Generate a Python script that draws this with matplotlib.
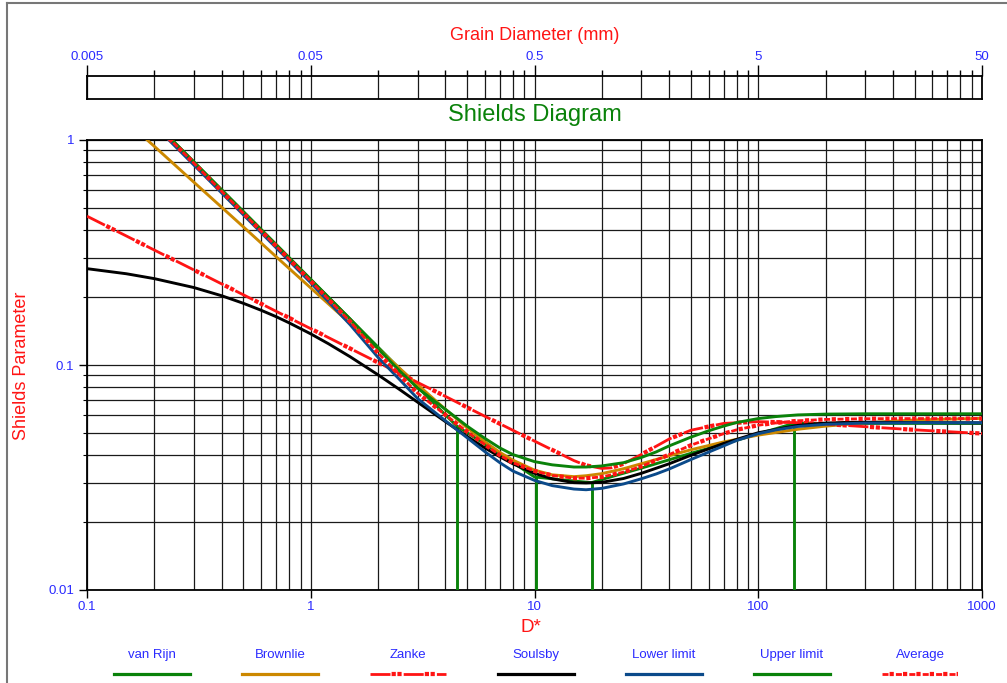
import matplotlib
matplotlib.use('Agg')
import matplotlib.pyplot as plt
from matplotlib.lines import Line2D
from matplotlib.ticker import FixedLocator, NullFormatter

plt.rcParams['font.family'] = ['Liberation Sans', 'DejaVu Sans']
plt.rcParams['lines.scale_dashes'] = False

GREEN = '#0a820a'
ORANGE = '#cc8800'
RED = '#ff1414'
NAVY = '#0b4a8a'
BLUE = '#2a2aff'

# values (D* -> Shields parameter)
d_vr = [0.2, 0.3, 0.5, 0.7, 1, 1.5, 2, 3, 4, 4.5, 5, 7, 10, 15, 18, 20, 30, 50, 70, 100, 145, 150, 300, 1000]
t_vr = [1.2, 0.8, 0.48, 0.343, 0.24, 0.16, 0.12, 0.08, 0.06, 0.0535, 0.050, 0.0403, 0.0318, 0.0305, 0.0300,
        0.0310, 0.0348, 0.0405, 0.0445, 0.0494, 0.0551, 0.055, 0.055, 0.055]
vr_drop_d = [4.5, 10.2, 18, 145]
vr_drop_t = [0.0535, 0.0318, 0.0300, 0.0551]

d_br = [0.15, 0.2, 0.3, 0.5, 0.7, 1, 1.5, 2, 3, 4, 5, 6, 7, 8, 10, 12, 15, 17, 20, 25, 30, 40, 50, 70, 100, 150,
        200, 300, 500, 1000]
t_br = [1.21, 0.937, 0.650, 0.411, 0.303, 0.220, 0.153, 0.118, 0.0819, 0.0635, 0.0526, 0.0456, 0.0409, 0.0378,
        0.0341, 0.0325, 0.0319, 0.0322, 0.0329, 0.0346, 0.0364, 0.0395, 0.0420, 0.0455, 0.0488, 0.0518, 0.0535,
        0.0553, 0.0570, 0.0579]

d_za = [0.1, 0.2, 0.3, 0.5, 0.7, 1, 1.5, 2, 3, 4, 5, 7, 10, 15, 17, 20, 22, 25, 30, 40, 50, 70, 100, 150, 200, 300,
        500, 1000]
t_za = [0.4585, 0.3242, 0.2647, 0.2051, 0.1733, 0.145, 0.1184, 0.1025, 0.0837, 0.0725, 0.0648, 0.0548, 0.0459,
        0.0376, 0.0358, 0.0347, 0.0349, 0.0364, 0.0400, 0.0469, 0.0513, 0.0550, 0.0560, 0.0554, 0.0546, 0.0532,
        0.0515, 0.0496]

d_so = [0.1, 0.15, 0.2, 0.3, 0.4, 0.5, 0.6, 0.7, 0.8, 1, 1.2, 1.5, 2, 2.5, 3, 4, 5, 6, 7, 8, 10, 12, 15, 17, 20, 25,
        30, 40, 50, 70, 100, 150, 200, 250, 300, 500, 1000]
t_so = [0.268, 0.2544, 0.242, 0.221, 0.2031, 0.188, 0.1751, 0.164, 0.1540, 0.1375, 0.1243, 0.1088, 0.0904, 0.0777,
        0.0684, 0.0560, 0.0481, 0.0428, 0.0391, 0.0364, 0.0330, 0.0312, 0.0300, 0.0299, 0.0301, 0.0313, 0.0330,
        0.0364, 0.0397, 0.0448, 0.0500, 0.0539, 0.0552, 0.0556, 0.0557, 0.0555, 0.0553]

d_lim = [0.2, 0.3, 0.5, 0.7, 1, 1.5, 2, 2.5, 3, 4, 5, 6, 7, 8, 10, 12, 15, 17, 20, 25, 30, 35, 40, 50, 60, 70, 80,
         100, 120, 150, 200, 300, 500, 1000]
t_lo = [1.16, 0.775, 0.465, 0.332, 0.232, 0.151, 0.108, 0.086, 0.071, 0.0565, 0.0475, 0.0412, 0.0368, 0.0338,
        0.0307, 0.0291, 0.0281, 0.0279, 0.0283, 0.0296, 0.0312, 0.0328, 0.0345, 0.0380, 0.0410, 0.0437, 0.0462,
        0.0495, 0.0515, 0.0533, 0.0545, 0.0552, 0.0554, 0.0554]
t_up = [1.20, 0.80, 0.48, 0.343, 0.240, 0.160, 0.118, 0.094, 0.079, 0.0635, 0.0535, 0.0472, 0.0428, 0.0400,
        0.0372, 0.0360, 0.0352, 0.0352, 0.0356, 0.0368, 0.0388, 0.0411, 0.0437, 0.0478, 0.0510, 0.0535, 0.0555,
        0.0578, 0.0590, 0.0600, 0.0605, 0.0607, 0.0607, 0.0607]
t_av = [1.18, 0.79, 0.472, 0.338, 0.236, 0.156, 0.113, 0.090, 0.075, 0.060, 0.0505, 0.0443, 0.0397, 0.0368,
        0.0338, 0.0323, 0.0314, 0.0314, 0.0318, 0.0334, 0.0354, 0.0378, 0.0400, 0.0440, 0.0470, 0.0495, 0.0515,
        0.0540, 0.0553, 0.0565, 0.0573, 0.0577, 0.0578, 0.0578]

names = ['van Rijn', 'Brownlie', 'Zanke', 'Soulsby', 'Lower limit', 'Upper limit', 'Average']

x_ticks = [0.1, 1, 10, 100, 1000]
x_labels = ['0.1', '1', '10', '100', '1000']
y_ticks = [0.01, 0.1, 1]
y_labels = ['0.01', '0.1', '1']
top_ticks = [0.005, 0.05, 0.5, 5, 50]
top_labels = ['0.005', '0.05', '0.5', '5', '50']

W, H = 1007, 683
fig = plt.figure(figsize=(W / 100, H / 100), dpi=100)
P = 0.72  # px -> pt


def red_line(target, x, y, dash, dots, transform=None, z=3):
    # long dash + square dots pattern, squares drawn as a thicker dashed line
    sq, gap = 4.2, 1.6
    period = dash + gap + dots * (sq + gap)
    kw = dict(color=RED, zorder=z)
    if transform is not None:
        kw['transform'] = transform
    seq = []
    for i in range(dots):
        seq += [sq * P, gap * P]
    seq[-1] = (period - dots * sq - (dots - 1) * gap) * P
    l1 = Line2D(x, y, lw=2.8 * P, linestyle=(0, (dash * P, (period - dash) * P)), **kw)
    l2 = Line2D(x, y, lw=sq * P, linestyle=((period - dash - gap) * P, seq), **kw)
    for l in (l1, l2):
        target.add_line(l) if hasattr(target, 'add_line') else target.add_artist(l)


ax = fig.add_axes([87 / W, 1 - 590 / H, 895 / W, 450 / H])
ax.set_xscale('log')
ax.set_yscale('log')
ax.set_xlim(0.1, 1000)
ax.set_ylim(0.01, 1)

lw = 2.9 * P
ax.plot(d_vr, t_vr, color=GREEN, lw=lw, zorder=3)
ax.vlines(vr_drop_d, 0.01, vr_drop_t, color=GREEN, lw=lw, zorder=3)
ax.plot(d_br, t_br, color=ORANGE, lw=lw, zorder=3)
red_line(ax, d_za, t_za, 20, 2)
ax.plot(d_so, t_so, color='black', lw=lw, zorder=3)
ax.plot(d_lim, t_lo, color=NAVY, lw=lw, zorder=3)
ax.plot(d_lim, t_up, color=GREEN, lw=lw, zorder=3)
red_line(ax, d_lim, t_av, 6, 1)

ax.xaxis.set_major_locator(FixedLocator(x_ticks))
ax.xaxis.set_minor_locator(FixedLocator([k * t for t in x_ticks[:-1] for k in range(2, 10)]))
ax.yaxis.set_major_locator(FixedLocator(y_ticks))
ax.yaxis.set_minor_locator(FixedLocator([k * t for t in y_ticks[:-1] for k in range(2, 10)]))
ax.set_xticklabels(x_labels)
ax.set_yticklabels(y_labels)
ax.xaxis.set_minor_formatter(NullFormatter())
ax.yaxis.set_minor_formatter(NullFormatter())
ax.tick_params(which='major', length=6, width=1, labelcolor=BLUE, labelsize=9.5, pad=3)
ax.tick_params(axis='x', which='major', pad=2)
ax.tick_params(axis='y', which='minor', length=3, width=0.8)
ax.tick_params(axis='x', which='minor', length=0)
ax.grid(True, which='both', color='#1a1a1a', lw=0.9, zorder=1)
ax.set_axisbelow(True)
for s in ax.spines.values():
    s.set_linewidth(1.3)

# grain diameter strip
ax2 = fig.add_axes([87 / W, 1 - 98.5 / H, 895 / W, 22.5 / H])
ax2.set_xscale('log')
ax2.set_xlim(0.005, 50)
ax2.set_yticks([])
ax2.xaxis.tick_top()
ax2.xaxis.set_major_locator(FixedLocator(top_ticks))
ax2.xaxis.set_minor_locator(FixedLocator([k * t for t in top_ticks[:-1] for k in range(2, 10)]))
ax2.set_xticklabels(top_labels)
ax2.xaxis.set_minor_formatter(NullFormatter())
ax2.tick_params(which='major', length=8, width=1, labelcolor=BLUE, labelsize=9.5, pad=1)
ax2.tick_params(which='minor', length=4, width=1)
ax2.grid(True, axis='x', which='both', color='#1a1a1a', lw=0.9)
for s in ax2.spines.values():
    s.set_linewidth(1.3)

fig.text(535 / W, 1 - 35 / H, 'Grain Diameter (mm)', color=RED, fontsize=13, ha='center', va='center')
fig.text(535 / W, 1 - 115 / H, 'Shields Diagram', color=GREEN, fontsize=17, ha='center', va='center')
fig.text(531 / W, 1 - 628 / H, 'D*', color=RED, fontsize=13.5, ha='center', va='center')
fig.text(22 / W, 1 - 366 / H, 'Shields Parameter', color=RED, fontsize=13, ha='center', va='center',
         rotation=90)

# legend row
styles = [GREEN, ORANGE, None, 'black', NAVY, GREEN, None]
for i, name in enumerate(names):
    xc = 152 + 128 * i
    fig.text(xc / W, 1 - 655 / H, name, color=BLUE, fontsize=9.5, ha='center', va='center')
    xs = [(xc - 38) / W, (xc + 38) / W]
    ys = [1 - 674 / H] * 2
    if styles[i] is None:
        red_line(fig, xs, ys, 20 if name == 'Zanke' else 6, 2 if name == 'Zanke' else 1,
                 transform=fig.transFigure)
    else:
        fig.add_artist(Line2D(xs, ys, color=styles[i], lw=3.2 * P, transform=fig.transFigure))

# outer frame
fig.add_artist(Line2D([7 / W, 7 / W], [0, 1 - 3 / H], color='#777777', lw=1.5, transform=fig.transFigure))
fig.add_artist(Line2D([7 / W, 1], [1 - 3 / H, 1 - 3 / H], color='#777777', lw=1.5, transform=fig.transFigure))

fig.savefig('out.png', dpi=100)
